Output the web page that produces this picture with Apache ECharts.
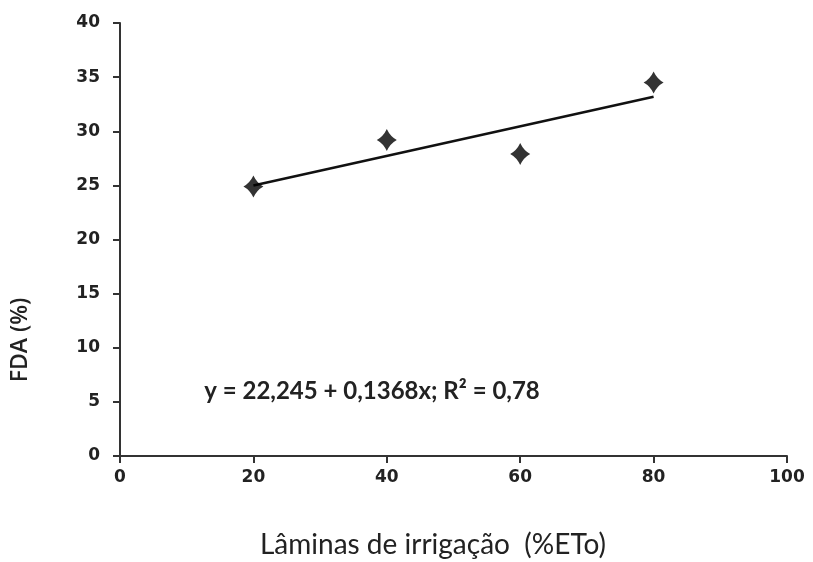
<!DOCTYPE html>
<html>
<head>
<meta charset="utf-8">
<script src="https://cdn.jsdelivr.net/npm/echarts@6/dist/echarts.min.js"></script>
<style>html,body{margin:0;padding:0;background:#fff;}#c{width:813px;height:562px;}</style>
</head>
<body>
<div id="c"></div>
<script>
var xValues = [20, 40, 60, 80];
var fdaValues = [24.9, 29.2, 27.9, 34.5];
var trendIntercept = 22.245;
var trendSlope = 0.1368;
var trendX = [20, 80];
var equationText = 'y = 22,245 + 0,1368x; R² = 0,78';
var xTitle = 'Lâminas de irrigação  (%ETo)';
var yTitle = 'FDA (%)';

var points = xValues.map(function (x, i) { return [x, fdaValues[i]]; });
var trend = trendX.map(function (x) { return [x, trendIntercept + trendSlope * x]; });

var chart = echarts.init(document.getElementById('c'));
chart.setOption({
  animation: false,
  backgroundColor: '#fff',
  grid: { left: 120, right: 26, top: 23, bottom: 106 },
  xAxis: {
    type: 'value', min: 0, max: 100, interval: 20,
    axisLine: { lineStyle: { color: '#333', width: 2 } },
    axisTick: { show: true, inside: false, length: 7, lineStyle: { color: '#333', width: 2 } },
    axisLabel: { color: '#222', fontSize: 17, fontWeight: 'bold', fontFamily: 'DejaVu Sans', margin: 13 },
    splitLine: { show: false }
  },
  yAxis: {
    type: 'value', min: 0, max: 40, interval: 5,
    axisLine: { show: true, lineStyle: { color: '#333', width: 2 } },
    axisTick: { show: true, inside: false, length: 7, lineStyle: { color: '#333', width: 2 } },
    axisLabel: { color: '#222', fontSize: 17, fontWeight: 'bold', fontFamily: 'DejaVu Sans', margin: 20 },
    splitLine: { show: false }
  },
  graphic: [
    { type: 'text', x: 20, y: 340, rotation: Math.PI / 2,
      style: { text: yTitle, fill: '#222', font: '600 23px "Open Sans"', align: 'center', verticalAlign: 'middle' } },
    { type: 'text', x: 433, y: 545,
      style: { text: xTitle, fill: '#222', font: '28px "Lato"', align: 'center', verticalAlign: 'middle' } },
    { type: 'text', x: 372, y: 391,
      style: { text: equationText, fill: '#222', font: 'bold 24px "Lato"', align: 'center', verticalAlign: 'middle' } }
  ],
  series: [
    { type: 'line', data: trend, symbol: 'none', lineStyle: { color: '#111', width: 2.5 }, z: 2 },
    { type: 'scatter', data: points,
      symbol: 'path://M0,-11 Q3.5,-3.5 10,0 Q3.5,3.5 0,11 Q-3.5,3.5 -10,0 Q-3.5,-3.5 0,-11Z',
      symbolSize: [20, 22],
      itemStyle: { color: '#000' }, z: 3 }
  ]
});
</script>
</body>
</html>
